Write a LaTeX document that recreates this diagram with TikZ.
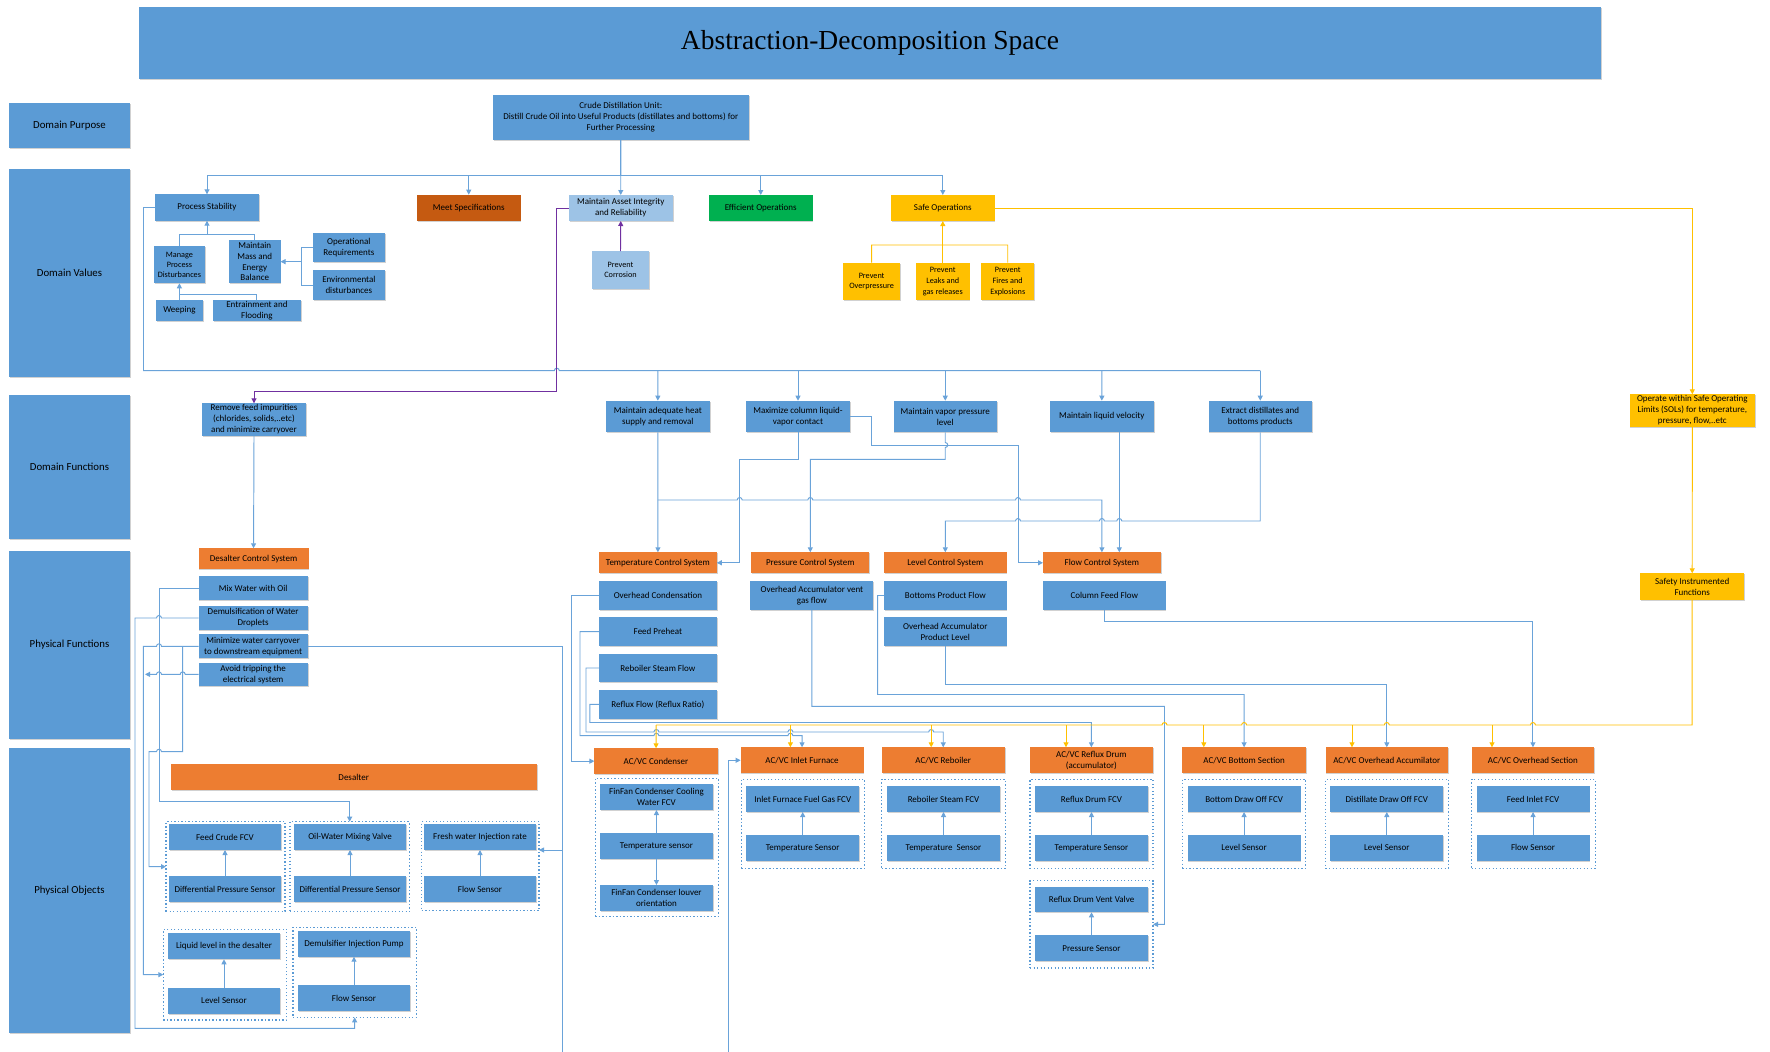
\documentclass[tikz,border=0pt]{standalone}
\usepackage{fontspec}
\setmainfont{Carlito}
\newfontfamily\ttlfont{Liberation Serif}
\usetikzlibrary{arrows.meta,shadows}
\definecolor{cblue}{HTML}{5B9BD5}
\definecolor{lnblue}{HTML}{6AA3D9}
\definecolor{lblue}{HTML}{9DC3E6}
\definecolor{corange}{HTML}{ED7D31}
\definecolor{dorange}{HTML}{C55A11}
\definecolor{cgreen}{HTML}{00B050}
\definecolor{cyellow}{HTML}{FFC000}
\definecolor{cpurple}{HTML}{7030A0}
% box given by its corners: style, name, x1, y1, x2, y2, text
\newcommand\nbox[7]{\node[#1,minimum width={#5-#3},minimum height={#6-#4}] (#2) at ({(#3+#5)/2},{(#4+#6)/2}) {#7};}
\tikzset{
  nb/.style={inner sep=0pt,outer sep=0pt,align=center,text=black,
    font=\fontsize{9}{11}\selectfont,
    drop shadow={shadow xshift=0.8pt,shadow yshift=-1pt,opacity=0.18,fill=black}},
  bb/.style={nb,fill=cblue},
  ob/.style={nb,fill=corange},
  yb/.style={nb,fill=cyellow},
  lb/.style={nb,fill=lblue},
  lab/.style={bb,font=\fontsize{10.8}{13}\selectfont},
  sm/.style={font=\fontsize{8.2}{9.8}\selectfont},
  grp/.style={draw=cblue,line width=1.3pt,dash pattern=on 1.3pt off 2.2pt,inner sep=0pt,outer sep=0pt},
  ln/.style={draw=lnblue,line width=0.95pt},
  yl/.style={draw=cyellow,line width=0.95pt},
  pu/.style={draw=cpurple,line width=0.95pt},
  arr/.style={-{Triangle[length=5pt,width=5pt]}},
}
\begin{document}
\begin{tikzpicture}[x=1pt,y=-1pt]
\fill[white] (0,0) rectangle (1770,1052);
\useasboundingbox (0,0) rectangle (1770,1052);

% ---------- title and level labels ----------
\nbox{bb,font=\ttlfont\fontsize{27.5}{30}\selectfont}{title}{139}{7}{1601}{79}{Abstraction-Decomposition Space}
\nbox{lab}{l1}{9}{102.7}{130}{148.3}{Domain Purpose}
\nbox{lab}{l2}{9}{168.7}{130}{377}{Domain Values}
\nbox{lab}{l3}{9}{394.7}{130}{539}{Domain Functions}
\nbox{lab}{l4}{9}{550.7}{130}{739}{Physical Functions}
\nbox{lab}{l5}{9}{748.4}{130}{1032.8}{Physical Objects}

% ---------- domain purpose ----------
\nbox{bb}{cdu}{492.9}{94.7}{748.7}{140}{Crude Distillation Unit:\\Distill Crude Oil into Useful Products (distillates and bottoms) for\\Further Processing}

% ---------- domain values ----------
\nbox{bb}{ps}{155}{194.3}{259}{220.7}{Process Stability}
\nbox{nb,fill=dorange}{ms}{417}{194.7}{520.5}{220.7}{Meet Specifications}
\nbox{lb}{mai}{568.7}{195}{672.8}{221}{Maintain Asset Integrity\\and Reliability}
\nbox{nb,fill=cgreen}{eo}{709}{195}{812.5}{221}{Efficient Operations}
\nbox{yb}{so}{891}{195}{994.6}{221}{Safe Operations}
\nbox{bb,sm}{mpd}{153.8}{246}{205}{283.3}{Manage\\Process\\Disturbances}
\nbox{bb,font=\fontsize{9}{10.6}\selectfont}{mmb}{229}{240}{280.5}{283.3}{Maintain\\Mass and\\Energy\\Balance}
\nbox{bb}{opr}{312.7}{232.7}{385}{262.3}{Operational\\Requirements}
\nbox{bb}{env}{312.7}{270.3}{385}{300}{Environmental\\disturbances}
\nbox{bb}{wee}{156}{300}{203}{320.7}{Weeping}
\nbox{bb}{ent}{213}{300}{300.8}{320.7}{Entrainment and\\Flooding}
\nbox{lb,sm}{pc}{592}{251}{649}{289}{Prevent\\Corrosion}
\nbox{yb,sm}{pov}{842.8}{262.7}{900.4}{300.3}{Prevent\\Overpressure}
\nbox{yb,font=\fontsize{8.2}{11.2}\selectfont}{plk}{916}{262.7}{969.6}{300.3}{Prevent\\Leaks and\\gas releases}
\nbox{yb,font=\fontsize{8.2}{11.2}\selectfont}{pfe}{981.2}{262.7}{1034.3}{300.3}{Prevent\\Fires and\\Explosions}

% ---------- domain functions ----------
\nbox{bb}{rfi}{202}{403.3}{306}{435.7}{Remove feed impurities\\(chlorides, solids,..etc)\\and minimize carryover}
\nbox{bb}{hs}{606}{400.7}{709.7}{432.3}{Maintain adequate heat\\supply and removal}
\nbox{bb}{mx}{746}{400.7}{850}{432.3}{Maximize column liquid-\\vapor contact}
\nbox{bb}{vp}{893.5}{400.7}{997}{432.3}{Maintain vapor pressure\\level}
\nbox{bb}{lv}{1050}{400.7}{1153.7}{432.3}{Maintain liquid velocity}
\nbox{bb}{ex}{1208.5}{400.7}{1312}{432.3}{Extract distillates and\\bottoms products}
\nbox{yb}{sol}{1629.6}{394.3}{1755}{426.7}{Operate within Safe Operating\\Limits (SOLs) for temperature,\\pressure, flow,..etc}

% ---------- physical functions ----------
\nbox{ob}{dcs}{198.6}{548.3}{308.5}{569.3}{Desalter Control System}
\nbox{bb}{mwo}{198.6}{576}{307.7}{600}{Mix Water with Oil}
\nbox{bb}{dem}{198.6}{606}{307.7}{630}{Demulsification of Water\\Droplets}
\nbox{bb}{mwc}{198.6}{634.3}{307.7}{658.3}{Minimize water carryover\\to downstream equipment}
\nbox{bb}{atr}{198.6}{662.7}{307.7}{686}{Avoid tripping the\\electrical system}
\nbox{ob}{tcs}{599}{552.3}{716.8}{573.3}{Temperature Control System}
\nbox{ob}{pcs}{751.2}{552.3}{869.4}{573.3}{Pressure Control System}
\nbox{ob}{lcs}{884}{552.3}{1006.6}{573.3}{Level Control System}
\nbox{ob}{fcs}{1043}{552.3}{1160.8}{573.3}{Flow Control System}
\nbox{bb}{ohc}{599}{581}{716.8}{610}{Overhead Condensation}
\nbox{bb}{fph}{599}{617.3}{716.8}{646}{Feed Preheat}
\nbox{bb}{rsf}{599}{653.7}{716.8}{682.3}{Reboiler Steam Flow}
\nbox{bb}{rfl}{599}{690}{716.8}{718.7}{Reflux Flow (Reflux Ratio)}
\nbox{bb}{vgf}{750.4}{581}{873.4}{610}{Overhead Accumulator vent\\gas flow}
\nbox{bb}{bpf}{884}{581}{1006.6}{610}{Bottoms Product Flow}
\nbox{bb}{oapl}{884}{617.3}{1006.6}{646}{Overhead Accumulator\\Product Level}
\nbox{bb}{cff}{1043}{581}{1165.6}{610}{Column Feed Flow}
\nbox{yb}{sif}{1640.4}{573.3}{1744}{600}{Safety Instrumented\\Functions}

% ---------- physical objects: desalter ----------
\nbox{ob}{dsl}{170.7}{764}{536.7}{790}{Desalter}
\nbox{grp}{g1}{166}{821.7}{285}{911.7}{}
\nbox{bb}{fcv}{168.7}{824}{281.3}{850}{Feed Crude FCV}
\nbox{bb}{dps1}{168.7}{876}{281.3}{902}{Differential Pressure Sensor}
\nbox{grp}{g2}{290}{821.7}{409.3}{911.7}{}
\nbox{bb}{owm}{293.7}{824}{406.3}{850}{Oil-Water Mixing Valve}
\nbox{bb}{dps2}{293.7}{876}{406.3}{902}{Differential Pressure Sensor}
\nbox{grp}{g3}{421.7}{821.7}{539}{910.7}{}
\nbox{bb}{fwi}{423.7}{824}{536.3}{850}{Fresh water Injection rate}
\nbox{bb}{fs1}{423.7}{876}{536.3}{902}{Flow Sensor}
\nbox{grp}{g4}{163.3}{929.3}{286.7}{1020}{}
\nbox{bb}{lld}{167.7}{933.3}{280.3}{959.3}{Liquid level in the desalter}
\nbox{bb}{ls1}{167.7}{987.7}{280.3}{1014}{Level Sensor}
\nbox{grp}{g5}{293}{927.3}{416.3}{1017.3}{}
\nbox{bb}{dip}{297.7}{930.7}{410.3}{956.7}{Demulsifier Injection Pump}
\nbox{bb}{fs2}{297.7}{985.3}{410.3}{1011.3}{Flow Sensor}

% ---------- physical objects: column ----------
\nbox{ob}{acc}{594.4}{748.3}{717.7}{774}{AC/VC Condenser}
\nbox{ob}{aif}{740.6}{747.3}{863.5}{773.3}{AC/VC Inlet Furnace}
\nbox{ob}{arb}{881.8}{747.3}{1004.7}{773.3}{AC/VC Reboiler}
\nbox{ob}{ard}{1030}{747.3}{1152.8}{773.3}{AC/VC Reflux Drum\\(accumulator)}
\nbox{ob}{abs}{1182.4}{747.3}{1305.8}{773.3}{AC/VC Bottom Section}
\nbox{ob}{aoa}{1325.6}{747.3}{1448}{773.3}{AC/VC Overhead Accumilator}
\nbox{ob}{aos}{1471.5}{747.3}{1594.4}{773.3}{AC/VC Overhead Section}

\nbox{grp}{gc}{595.2}{778.3}{718.4}{916.3}{}
\nbox{bb}{ffc}{600.2}{784.3}{712.7}{810}{FinFan Condenser Cooling\\Water FCV}
\nbox{bb}{tsc}{600.2}{833.3}{712.7}{859}{Temperature sensor}
\nbox{bb}{flo}{600.2}{885}{712.7}{911.3}{FinFan Condenser louver\\orientation}
\nbox{grp}{gi}{741.4}{779.3}{864.6}{868.3}{}
\nbox{bb}{iff}{746.4}{786}{859}{812}{Inlet Furnace Fuel Gas FCV}
\nbox{bb}{tsi}{746.4}{834.7}{859}{861}{Temperature Sensor}
\nbox{grp}{gr}{881.8}{779.3}{1005.5}{868.3}{}
\nbox{bb}{rsv}{887}{786}{1000}{812}{Reboiler Steam FCV}
\nbox{bb}{tsr}{887}{834.7}{1000}{861}{Temperature~ Sensor}
\nbox{grp}{gd}{1030}{779.3}{1153}{868.3}{}
\nbox{bb}{rdf}{1035}{786}{1148}{812}{Reflux Drum FCV}
\nbox{bb}{tsd}{1035}{834.7}{1148}{861}{Temperature Sensor}
\nbox{grp}{gv}{1030}{880.7}{1153}{968}{}
\nbox{bb}{rdv}{1035}{886.7}{1148}{912.3}{Reflux Drum Vent Valve}
\nbox{bb}{prs}{1035}{935.3}{1148}{961}{Pressure Sensor}
\nbox{grp}{gb}{1182.4}{779.3}{1305.8}{868.3}{}
\nbox{bb}{bdf}{1187.6}{786}{1300.6}{812}{Bottom Draw Off FCV}
\nbox{bb}{lsb}{1187.6}{834.7}{1300.6}{861}{Level Sensor}
\nbox{grp}{ga}{1325.6}{779.3}{1448.5}{868.3}{}
\nbox{bb}{ddf}{1330.3}{786}{1443.3}{812}{Distillate Draw Off FCV}
\nbox{bb}{lsa}{1330.3}{834.7}{1443.3}{861}{Level Sensor}
\nbox{grp}{gs}{1471.5}{779.3}{1595.2}{868.3}{}
\nbox{bb}{fif}{1476.6}{786}{1589.5}{812}{Feed Inlet FCV}
\nbox{bb}{fsc}{1476.6}{834.7}{1589.5}{861}{Flow Sensor}

% ---------- purpose to values ----------
\draw[ln,arr] (cdu.south) -- (mai.north);
\draw[ln,arr] (cdu.south) -- ++(0,35.7) -| (ps.north);
\draw[ln,arr] (cdu.south) -- ++(0,35.7) -| (ms.north);
\draw[ln,arr] (cdu.south) -- ++(0,35.7) -| (eo.north);
\draw[ln,arr] (cdu.south) -- ++(0,35.7) -| (so.north);

% process stability tree
\draw[ln] (mpd.north) -- (179.4,234) -- (254.75,234) -- (mmb.north);
\draw[ln,arr] (207,234) -- (ps.south);
\draw[ln] (opr.west) -- (301.2,247.5) -- (301.2,285.15) -- (env.west);
\draw[ln,arr] (301.2,261.65) -- (mmb.east);
\draw[ln] (wee.north) -- (179.5,294.3) -- (256.9,294.3) -- (ent.north);
\draw[ln,arr] (179.4,294.3) -- (mpd.south);

% asset integrity
\draw[pu,arr] (pc.north) -- (mai.south);
% safe operations tree
\draw[yl] (pov.north) -- (871.6,245) -- (1007.75,245) -- (pfe.north);
\draw[yl,arr] (plk.north) -- (so.south);
\draw[yl,arr] (so.east) -| (sol.north);
\draw[yl,arr] (sol.south) -- (sif.north);

% ---------- values to functions ----------
\draw[ln] (ps.west) -- (143.5,207.5) -- (143.5,370.7) -- (554.3,370.7) arc(180:0:2.5pt) -- (1260.25,370.7);
\draw[ln,arr] (657.85,370.7) -- (hs.north);
\draw[ln,arr] (798,370.7) -- (mx.north);
\draw[ln,arr] (945.25,370.7) -- (vp.north);
\draw[ln,arr] (1101.85,370.7) -- (lv.north);
\draw[ln,arr] (1260.25,370.7) -- (ex.north);
\draw[pu,arr] (mai.west) -- (556.8,208) -- (556.8,391.3) -- (254,391.3) -- (rfi.north);

% ---------- functions to physical functions ----------
\draw[ln,arr] (rfi.south) -- (dcs.north);
\draw[ln,arr] (hs.south) -- (tcs.north);
\draw[ln,arr] (657.85,500) -- (737.2,500) arc(180:0:2.5pt) -- (807.8,500) arc(180:0:2.5pt)
   -- (1015.5,500) arc(180:0:2.5pt) -- (1101.9,500) -- (fcs.north);
\draw[ln,arr] (mx.south) -- (798,459.3) -- (739.7,459.3) -- (739.7,562.8) -- (tcs.east);
\draw[ln,arr] (mx.east) -- (871.4,416.5) -- (871.4,445) -- (1018,445) -- (1018,562.8) -- (fcs.west);
\draw[ln,arr] (vp.south) -- (945.25,442.5) arc(90:-90:2.5pt) -- (945.25,459.3) -- (810.3,459.3) -- (pcs.north);
\draw[ln,arr] ([xshift=17.45pt]lv.south) -- ++(0,120);
\draw[ln,arr] (ex.south) -- (1260.25,521) -- (1121.8,521) arc(0:180:2.5pt) -- (1104.4,521) arc(0:180:2.5pt)
   -- (1020.5,521) arc(0:180:2.5pt) -- (945.3,521) -- (lcs.north);

% ---------- desalter physical functions to objects ----------
\draw[ln,arr] (mwo.west) -- (159,588) -- (159,801) -- (349.65,801) -- (g2.north);
\draw[ln,arr] (dem.west) -- (161.5,618) arc(0:180:2.5pt) -- (135,618) -- (135,1028.3) -- (354.65,1028.3) -- (g5.south);
\draw[ln,arr] (mwc.west) -- (161.5,646.3) arc(0:180:2.5pt) -- (143.3,646.3) -- (143.3,974.65) -- (g4.west);
\draw[ln,arr] (182.7,646.3) -- (182.7,751.7) -- (161.5,751.7) arc(0:180:2.5pt) -- (149,751.7) -- (149,866.7) -- (g1.west);
\draw[ln,arr] (atr.west) -- (185.2,674.35) arc(0:180:2.5pt) -- (161.5,674.35) arc(0:180:2.5pt) -- (145,674.35);
\draw[ln] (mwc.east) -- (562.7,646.3) -- (562.7,1052);
\draw[ln,arr] (562.7,850) -- (539,850);

% ---------- column physical functions to objects ----------
\draw[ln,arr] (ohc.west) -- (571.5,595.5) -- (571.5,761.15) -- (acc.west);
\draw[ln,arr] (fph.west) -- (580,631.65) -- (580,735.7) -- (653.9,735.7) arc(180:0:2.5pt)
   -- (787.9,735.7) arc(180:0:2.5pt) -- (802.05,735.7) -- (aif.north);
\draw[ln,arr] (rsf.west) -- (586,668) -- (586,732) -- (653.9,732) arc(180:0:2.5pt)
   -- (787.9,732) arc(180:0:2.5pt) -- (928.7,732) arc(180:0:2.5pt) -- (943.25,732) -- (arb.north);
\draw[ln,arr] (rfl.west) -- (589.9,704.35) -- (589.9,722.5) -- (1091.4,722.5) -- (ard.north);
\draw[ln,arr] (728.4,1052) -- (728.4,760.3) -- (aif.west);
\draw[ln,arr] (vgf.south) -- (811.9,706.3) -- (1164.5,706.3) -- (1164.5,924.35) -- (gv.east);
\draw[ln,arr] (bpf.west) -- (877.7,595.5) -- (877.7,694.5) -- (1244.1,694.5) -- (abs.north);
\draw[ln,arr] (oapl.south) -- (945.3,684.5) -- (1386.8,684.5) -- (aoa.north);
\draw[ln,arr] (cff.south) -- (1104.3,621) -- (1532.95,621) -- (aos.north);

% safety bus
\draw[yl] (sif.south) -- (1692.2,725) -- (1535.45,725) arc(0:180:2.5pt) -- (1389.3,725) arc(0:180:2.5pt)
   -- (1246.6,725) arc(0:180:2.5pt) -- (1167,725) arc(0:180:2.5pt) -- (656.05,725);
\draw[yl,arr] (656.05,725) -- (acc.north);
\draw[yl,arr] (790.4,725) -- (790.4,747.3);
\draw[yl,arr] (931.2,725) -- (931.2,747.3);
\draw[yl,arr] (1066,725) -- (1066,747.3);
\draw[yl,arr] (1203.8,725) -- (1203.8,747.3);
\draw[yl,arr] (1352,725) -- (1352,747.3);
\draw[yl,arr] (1492,725) -- (1492,747.3);

% ---------- sensor to actuator links ----------
\draw[ln,arr] (dps1.north) -- (fcv.south);
\draw[ln,arr] (dps2.north) -- (owm.south);
\draw[ln,arr] (fs1.north) -- (fwi.south);
\draw[ln,arr] (ls1.north) -- (lld.south);
\draw[ln,arr] (fs2.north) -- (dip.south);
\draw[ln,arr] (tsc.north) -- (ffc.south);
\draw[ln,arr] (tsc.south) -- (flo.north);
\draw[ln,arr] (tsi.north) -- (iff.south);
\draw[ln,arr] (tsr.north) -- (rsv.south);
\draw[ln,arr] (tsd.north) -- (rdf.south);
\draw[ln,arr] (prs.north) -- (rdv.south);
\draw[ln,arr] (lsb.north) -- (bdf.south);
\draw[ln,arr] (lsa.north) -- (ddf.south);
\draw[ln,arr] (fsc.north) -- (fif.south);
\end{tikzpicture}
\end{document}
